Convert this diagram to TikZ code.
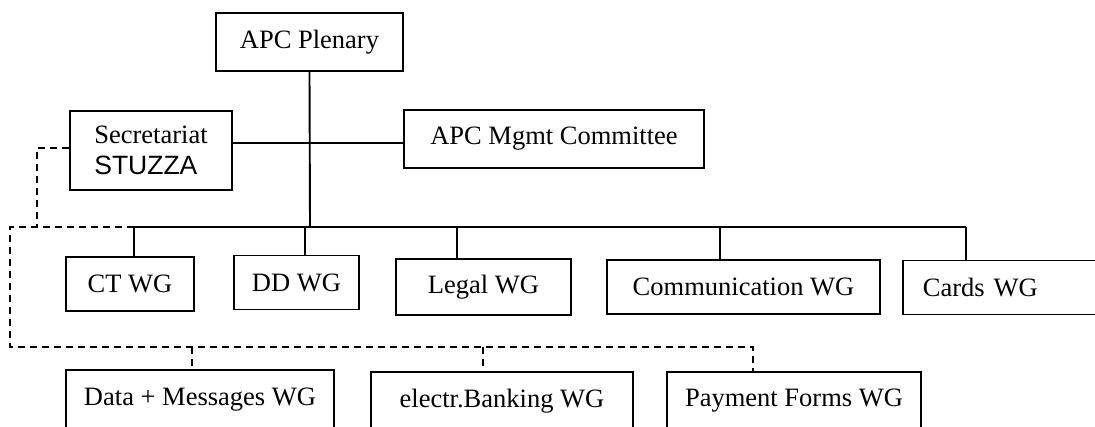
\documentclass[tikz,border=0pt]{standalone}
\usepackage{fontspec}
\setmainfont{Liberation Serif}
\newfontfamily\arialfont{Liberation Sans}

\tikzset{
  wgbox/.style={draw, line width=1.9pt, inner sep=0pt, minimum height=54pt},
  conn/.style={line width=1.9pt},
  dashconn/.style={line width=1.9pt, dash pattern=on 7pt off 5pt}
}

\begin{document}
\begin{tikzpicture}[x=1pt, y=-1pt, font=\fontsize{26.5}{31}\selectfont]
  \useasboundingbox (0,0) rectangle (1095,426);
  \clip (0,0) rectangle (1095,426);

  % top level
  \node[wgbox, minimum width=187pt, minimum height=58pt] (plenary) at (309.5,42) {APC Plenary};
  \node[wgbox, minimum width=162pt, minimum height=79pt, align=left] (secretariat) at (151,150.5) {Secretariat\\{\arialfont STUZZA}};
  \node[wgbox, minimum width=300pt, minimum height=58pt] (mgmt) at (554,139) {APC Mgmt Committee};

  % working groups
  \node[wgbox, minimum width=128pt] (ct) at (130,284) {CT WG};
  \node[wgbox, minimum width=125pt] (dd) at (296.5,282.5) {DD WG};
  \node[wgbox, minimum width=175pt, minimum height=56pt] (legal) at (483.5,287) {Legal WG};
  \node[wgbox, minimum width=273pt] (comm) at (743.5,287) {Communication WG};
  \node[wgbox, anchor=west, inner xsep=20pt, text width=170pt, align=left] (cards) at (902,287.5) {Cards WG};

  % dashed groups
  \node[wgbox, minimum width=268pt, minimum height=60pt] (data) at (200,400) {Data + Messages WG};
  \node[wgbox, minimum width=262pt, minimum height=58pt] (ebank) at (502,401) {electr.Banking WG};
  \node[wgbox, minimum width=254pt, minimum height=58pt] (pay) at (794,401) {Payment Forms WG};

  % solid lines
  \coordinate (bus) at (310,227);
  \coordinate (hub) at (310,143);
  \draw[conn] (plenary.south) -- (bus);
  \draw[conn] (hub -| secretariat.east) -- (hub -| mgmt.west);
  \coordinate (bct) at (134,227);
  \coordinate (bdd) at (305,227);
  \coordinate (blegal) at (457,227);
  \coordinate (bcomm) at (720,227);
  \coordinate (bcards) at (966,227);
  \draw[conn] (bct) -- (bcards);
  \foreach \b/\n in {bct/ct, bdd/dd, blegal/legal, bcomm/comm, bcards/cards}
    \draw[conn] (\b) -- (\b |- \n.north);

  % dashed lines
  \coordinate (sleft) at (37,148);
  \draw[dashconn] (sleft -| secretariat.west) -- (sleft) -- (sleft |- bus);
  \coordinate (dleft) at (10,347);
  \coordinate (ddata) at (192,347);
  \coordinate (dbank) at (483,347);
  \coordinate (dpay) at (753,347);
  \draw[dashconn] (bct) -| (dleft) -- (dpay) -- (dpay |- pay.north);
  \draw[dashconn] (ddata) -- (ddata |- data.north);
  \draw[dashconn] (dbank) -- (dbank |- ebank.north);
\end{tikzpicture}
\end{document}
